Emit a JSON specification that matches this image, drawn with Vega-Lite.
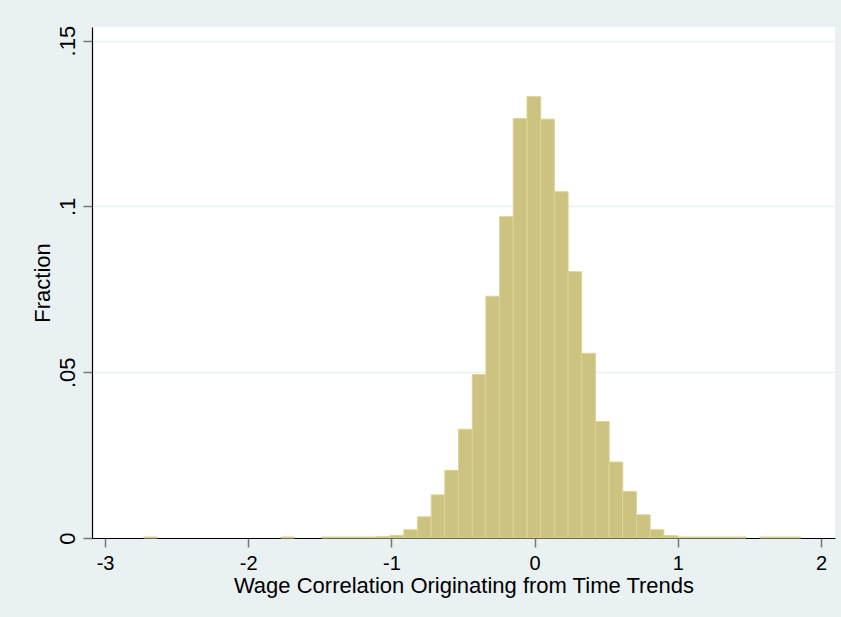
{
  "$schema": "https://vega.github.io/schema/vega-lite/v6.json",
  "width": 743,
  "height": 511,
  "autosize": "none",
  "padding": {"left": 92, "top": 27, "right": 6, "bottom": 79},
  "background": "#EAF1F3",
  "view": {"fill": "#FFFFFF", "stroke": null},
  "config": {
    "font": "Liberation Sans",
    "axis": {
      "labelFont": "Liberation Sans",
      "titleFont": "Liberation Sans",
      "labelFontSize": 22,
      "titleFontSize": 22,
      "titleFontWeight": "normal",
      "labelColor": "#000000",
      "titleColor": "#000000",
      "domainColor": "#000000",
      "domainWidth": 1.2,
      "tickColor": "#777777",
      "tickWidth": 1.5,
      "tickSize": 9
    }
  },
  "data": {
    "values": [
      {"lo": -2.730, "hi": -2.634, "fraction": 0.0003},
      {"lo": -1.774, "hi": -1.678, "fraction": 0.0003},
      {"lo": -1.487, "hi": -1.391, "fraction": 0.0003},
      {"lo": -1.391, "hi": -1.296, "fraction": 0.0003},
      {"lo": -1.296, "hi": -1.200, "fraction": 0.0003},
      {"lo": -1.200, "hi": -1.105, "fraction": 0.0003},
      {"lo": -1.105, "hi": -1.009, "fraction": 0.0004},
      {"lo": -1.009, "hi": -0.913, "fraction": 0.0008},
      {"lo": -0.913, "hi": -0.818, "fraction": 0.0025},
      {"lo": -0.818, "hi": -0.722, "fraction": 0.0064},
      {"lo": -0.722, "hi": -0.627, "fraction": 0.0130},
      {"lo": -0.627, "hi": -0.531, "fraction": 0.0204},
      {"lo": -0.531, "hi": -0.435, "fraction": 0.0328},
      {"lo": -0.435, "hi": -0.340, "fraction": 0.0493},
      {"lo": -0.340, "hi": -0.244, "fraction": 0.0729},
      {"lo": -0.244, "hi": -0.149, "fraction": 0.0969},
      {"lo": -0.149, "hi": -0.053, "fraction": 0.1265},
      {"lo": -0.053, "hi": 0.043, "fraction": 0.1331},
      {"lo": 0.043, "hi": 0.138, "fraction": 0.1263},
      {"lo": 0.138, "hi": 0.234, "fraction": 0.1044},
      {"lo": 0.234, "hi": 0.329, "fraction": 0.0803},
      {"lo": 0.329, "hi": 0.425, "fraction": 0.0557},
      {"lo": 0.425, "hi": 0.521, "fraction": 0.0351},
      {"lo": 0.521, "hi": 0.616, "fraction": 0.0229},
      {"lo": 0.616, "hi": 0.712, "fraction": 0.0140},
      {"lo": 0.712, "hi": 0.807, "fraction": 0.0070},
      {"lo": 0.807, "hi": 0.903, "fraction": 0.0025},
      {"lo": 0.903, "hi": 0.999, "fraction": 0.0007},
      {"lo": 0.999, "hi": 1.094, "fraction": 0.0003},
      {"lo": 1.094, "hi": 1.190, "fraction": 0.0003},
      {"lo": 1.190, "hi": 1.285, "fraction": 0.0003},
      {"lo": 1.285, "hi": 1.381, "fraction": 0.0003},
      {"lo": 1.381, "hi": 1.477, "fraction": 0.0003},
      {"lo": 1.572, "hi": 1.668, "fraction": 0.0003},
      {"lo": 1.668, "hi": 1.763, "fraction": 0.0003},
      {"lo": 1.763, "hi": 1.859, "fraction": 0.0003}
    ]
  },
  "mark": {"type": "rect", "fill": "#CBC37F", "stroke": "#DBD494", "strokeWidth": 1},
  "encoding": {
    "x": {
      "field": "lo",
      "type": "quantitative",
      "scale": {"domain": [-3.091, 2.098], "nice": false, "zero": false},
      "axis": {
        "title": "Wage Correlation Originating from Time Trends",
        "values": [-3, -2, -1, 0, 1, 2],
        "labelExpr": "datum.value + ''",
        "labelFontSize": 20,
        "grid": false,
        "labelPadding": 6,
        "titlePadding": 2
      }
    },
    "x2": {"field": "hi"},
    "y": {
      "field": "fraction",
      "type": "quantitative",
      "scale": {"domain": [0, 0.1541], "nice": false},
      "axis": {
        "title": "Fraction",
        "values": [0, 0.05, 0.1, 0.15],
        "labelExpr": "datum.value == 0 ? '0' : substring(format(datum.value, '~g'), 1)",
        "labelAngle": -90,
        "labelAlign": "center",
        "labelBaseline": "bottom",
        "labelPadding": 4,
        "titlePadding": 2,
        "grid": true,
        "gridColor": "#EAF1F3",
        "gridWidth": 1.5
      }
    },
    "y2": {"datum": 0}
  }
}
